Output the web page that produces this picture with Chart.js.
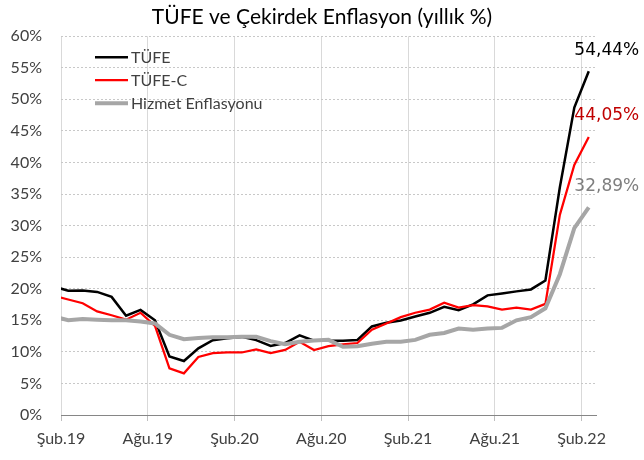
<!DOCTYPE html>
<html>
<head>
<meta charset="utf-8">
<script src="https://cdn.jsdelivr.net/npm/chart.js@4.4.0/dist/chart.umd.min.js"></script>
<style>
  html, body { margin: 0; padding: 0; background: #fff; }
</style>
</head>
<body>
<canvas id="c" width="644" height="460"></canvas>
<script>
// monthly, Oca.19 .. Şub.22 (Oca.19 sits just left of the plot and is clipped)
const months = [
    'Oca.19', 'Şub.19', 'Mar.19', 'Nis.19', 'May.19', 'Haz.19', 'Tem.19', 'Ağu.19', 'Eyl.19', 'Eki.19', 'Kas.19', 'Ara.19',
    'Oca.20', 'Şub.20', 'Mar.20', 'Nis.20', 'May.20', 'Haz.20', 'Tem.20', 'Ağu.20', 'Eyl.20', 'Eki.20', 'Kas.20', 'Ara.20',
    'Oca.21', 'Şub.21', 'Mar.21', 'Nis.21', 'May.21', 'Haz.21', 'Tem.21', 'Ağu.21', 'Eyl.21', 'Eki.21', 'Kas.21', 'Ara.21',
    'Oca.22', 'Şub.22'
];
const tickLabels = ['Şub.19', 'Ağu.19', 'Şub.20', 'Ağu.20', 'Şub.21', 'Ağu.21', 'Şub.22'];

const tufe = [
    20.35, 19.67, 19.71, 19.50, 18.71, 15.72, 16.65, 15.01, 9.26, 8.55, 10.56, 11.84,
    12.15, 12.37, 11.86, 10.94, 11.39, 12.62, 11.76, 11.77, 11.75, 11.89, 14.03, 14.60,
    14.97, 15.61, 16.19, 17.14, 16.59, 17.53, 18.95, 19.25, 19.58, 19.89, 21.31, 36.08,
    48.69, 54.44
];
const tufeC = [
    18.9, 18.3, 17.7, 16.4, 15.8, 15.1, 16.2, 14.1, 7.4, 6.6, 9.2, 9.8,
    9.9, 9.9, 10.4, 9.8, 10.3, 11.6, 10.3, 10.9, 11.2, 11.4, 13.5, 14.5,
    15.5, 16.2, 16.7, 17.8, 17.0, 17.4, 17.2, 16.7, 17.0, 16.7, 17.6, 31.7,
    39.6, 44.05
];
const hizmet = [
    15.6, 15.0, 15.2, 15.1, 15.0, 15.0, 14.8, 14.5, 12.7, 12.0, 12.2, 12.3,
    12.3, 12.4, 12.4, 11.7, 11.2, 11.6, 11.8, 11.9, 10.8, 10.9, 11.3, 11.6,
    11.6, 11.9, 12.7, 13.0, 13.7, 13.5, 13.7, 13.8, 15.0, 15.5, 16.9, 22.3,
    29.6, 32.89
];
const endLabels = ['54,44%', '44,05%', '32,89%'];
const endColors = ['#000000', '#c00000', '#7f7f7f'];

const font = 'Lato';

let pts = function (vals) {
    return vals.map(function (v, i) {
        return {x: i, y: v};
    });
};

// legend drawn inside the plot, top left
const innerLegend = {
    id: 'innerLegend',
    afterDraw(chart) {
        const ctx = chart.ctx;
        const a = chart.chartArea;
        ctx.save();
        ctx.font = '16px ' + font;
        ctx.textBaseline = 'middle';
        chart.data.datasets.forEach(function (ds, i) {
            const y = a.top + 21 + i * 23;
            ctx.strokeStyle = ds.borderColor;
            ctx.lineWidth = ds.borderWidth;
            ctx.beginPath();
            ctx.moveTo(a.left + 34, y);
            ctx.lineTo(a.left + 67, y);
            ctx.stroke();
            ctx.fillStyle = '#404040';
            ctx.fillText(ds.label, a.left + 70, y + 1);
        });
        ctx.restore();
    }
};

// last value written above each line end
const endValues = {
    id: 'endValues',
    afterDatasetsDraw(chart) {
        const ctx = chart.ctx;
        ctx.save();
        ctx.font = '17px "DejaVu Sans"';
        ctx.textAlign = 'center';
        ctx.textBaseline = 'middle';
        chart.data.datasets.forEach(function (ds, i) {
            const meta = chart.getDatasetMeta(i);
            const p = meta.data[meta.data.length - 1];
            ctx.fillStyle = endColors[i];
            ctx.fillText(endLabels[i], p.x + 18, p.y - 21);
        });
        ctx.restore();
    }
};

const config = {
    type: 'line',
    data: {
        datasets: [{
                label: 'TÜFE',
                data: pts(tufe),
                borderColor: '#000000',
                borderWidth: 2.5,
                order: 3
            }, {
                label: 'TÜFE-C',
                data: pts(tufeC),
                borderColor: '#ff0000',
                borderWidth: 2.25,
                order: 2
            }, {
                label: 'Hizmet Enflasyonu',
                data: pts(hizmet),
                borderColor: '#a6a6a6',
                borderWidth: 4,
                order: 1
            }]
    },
    options: {
        responsive: false,
        animation: false,
        devicePixelRatio: 1,
        datasets: {
            line: {
                pointRadius: 0,
                tension: 0,
                clip: 0,
                fill: false
            }
        },
        layout: {
            padding: {left: 6, right: 6, top: 2, bottom: 0}
        },
        scales: {
            x: {
                type: 'linear',
                min: 0.5,
                max: months.length - 0.5,
                afterBuildTicks: function (s) {
                    s.ticks = tickLabels.map(function (l) {
                        return {value: months.indexOf(l) - 0.5};
                    });
                },
                afterFit: function (s) {
                    s.height = 45;
                },
                grid: {
                    color: '#d9d9d9',
                    lineWidth: 1,
                    tickLength: 6,
                    tickColor: '#bfbfbf'
                },
                border: {
                    color: '#868686',
                    width: 1
                },
                ticks: {
                    autoSkip: false,
                    maxRotation: 0,
                    padding: 8,
                    color: '#404040',
                    font: {family: font, size: 16},
                    callback: function (v) {
                        return months[v + 0.5];
                    }
                }
            },
            y: {
                min: 0,
                max: 60,
                afterFit: function (s) {
                    s.width = 55;
                },
                grid: {
                    drawTicks: false,
                    color: function (c) {
                        return c.tick && c.tick.value === 0 ? 'rgba(0,0,0,0)' : '#c8c8c8';
                    }
                },
                border: {
                    display: false,
                    dash: [2, 2]
                },
                ticks: {
                    stepSize: 5,
                    padding: 19,
                    color: '#404040',
                    font: {family: font, size: 16},
                    callback: function (v) {
                        return v + '%';
                    }
                }
            },
            // empty right axis, only keeps room for the end values
            yRight: {
                position: 'right',
                min: 0,
                max: 60,
                afterFit: function (s) {
                    s.width = 42;
                },
                grid: {display: false},
                border: {display: false},
                ticks: {display: false}
            }
        },
        plugins: {
            title: {
                display: true,
                text: 'TÜFE ve Çekirdek Enflasyon (yıllık %)',
                color: '#000000',
                font: {family: font, size: 21, weight: 'normal', lineHeight: 1.2},
                padding: {top: 3, bottom: 6}
            },
            legend: {
                display: false
            },
            tooltip: {
                enabled: false
            }
        }
    },
    plugins: [innerLegend, endValues]
};

const myChart = new Chart(document.getElementById('c').getContext('2d'), config);
</script>
</body>
</html>
